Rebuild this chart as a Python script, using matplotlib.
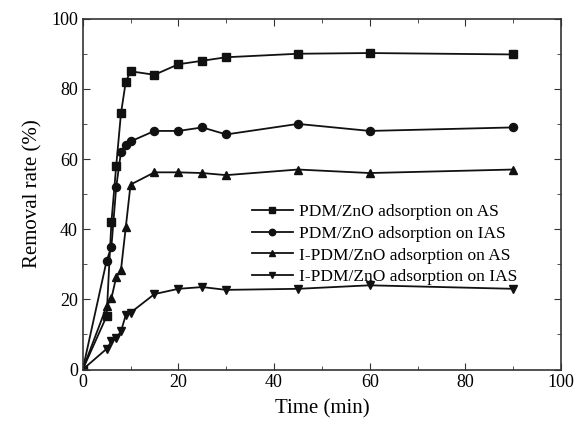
import numpy as np
import matplotlib
matplotlib.use('Agg')
import matplotlib.pyplot as plt
from matplotlib.ticker import MultipleLocator

plt.rcParams['font.family'] = ['Liberation Serif', 'DejaVu Serif']

t = [0, 5, 6, 7, 8, 9, 10, 15, 20, 25, 30, 45, 60, 90]
pdm_as = [0, 15.2, 42, 58, 73, 82, 85, 84, 87, 88, 89, 90, 90.2, 89.8]
pdm_ias = [0, 31, 35, 52, 62, 64, 65, 68, 68, 69, 67, 70, 68, 69]
ipdm_as = [0, 18, 20.3, 26.3, 28.4, 40.5, 52.7, 56.2, 56.2, 56, 55.4, 57, 56, 57]
ipdm_ias = [0, 5.9, 8, 8.9, 10.9, 15.5, 16.2, 21.5, 23, 23.5, 22.7, 23, 24, 23]

labels = ['PDM/ZnO adsorption on AS', 'PDM/ZnO adsorption on IAS',
          'I-PDM/ZnO adsorption on AS', 'I-PDM/ZnO adsorption on IAS']
markers = ['s', 'o', '^', 'v']

fig = plt.figure(figsize=(5.76, 4.24), dpi=100)
ax = fig.add_axes([0.1436, 0.1285, 0.974 - 0.1436, 0.956 - 0.1285])

for y, m, lab in zip([pdm_as, pdm_ias, ipdm_as, ipdm_ias], markers, labels):
    ax.plot(t, y, color='#111111', lw=1.3, marker=m, ms=5.8, label=lab)

ax.set_xlim(0, 100)
ax.set_ylim(0, 100)
ax.xaxis.set_major_locator(MultipleLocator(20))
ax.xaxis.set_minor_locator(MultipleLocator(10))
ax.yaxis.set_major_locator(MultipleLocator(20))
ax.yaxis.set_minor_locator(MultipleLocator(10))
ax.tick_params(which='both', direction='in', top=True, right=True, labelsize=13, color='#333333')
ax.tick_params(which='major', length=5)
ax.tick_params(which='minor', length=3)
for s in ax.spines.values():
    s.set_linewidth(1.2)
    s.set_color('#333333')

ax.set_xlabel('Time (min)', fontsize=15, labelpad=6)
ax.set_ylabel('Removal rate (%)', fontsize=15, labelpad=6)

ax.legend(loc='center left', bbox_to_anchor=(0.335, 0.356), frameon=False,
          fontsize=12.5, handlelength=2.4, handletextpad=0.3, labelspacing=0.32,
          borderpad=0, markerscale=0.8)

fig.savefig('out.png', dpi=100)
